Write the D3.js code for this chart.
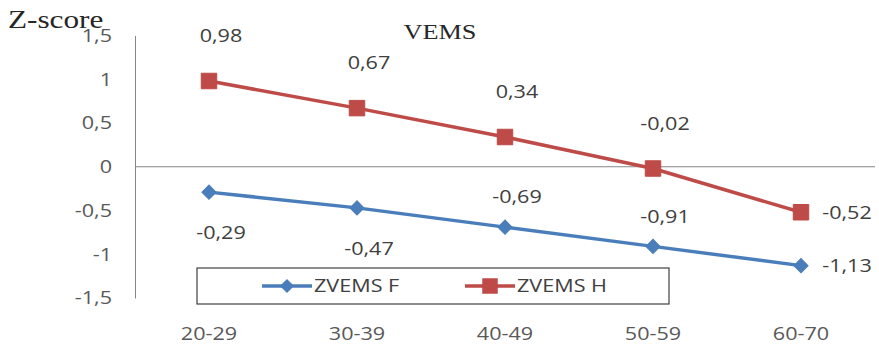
<!DOCTYPE html>
<html>
<head>
<meta charset="utf-8">
<script src="https://cdn.jsdelivr.net/npm/d3@7"></script>
<style>
  html, body { margin: 0; padding: 0; background: #fff; }
  svg { display: block; }
  .sx, .sxr, .sxl { transform-box: fill-box; }
  .sx  { transform-origin: 50% 50%;  transform: scaleX(1.2); }
  .sxr { transform-origin: 100% 50%; transform: scaleX(1.2); }
  .sxl { transform-origin: 0% 50%;   transform: scaleX(1.2); }
  .serif { transform-box: fill-box; transform-origin: 0% 50%; transform: scaleX(1.25); }
  .serifc { transform-box: fill-box; transform-origin: 50% 50%; transform: scaleX(1.25); }
</style>
</head>
<body>
<svg id="chart" width="879" height="357"></svg>
<script>
// Age groups and mean FEV1 z-scores for women (F) and men (H)
const categories = ["20-29", "30-39", "40-49", "50-59", "60-70"];
const zvemsF = [-0.29, -0.47, -0.69, -0.91, -1.13];
const zvemsH = [0.98, 0.67, 0.34, -0.02, -0.52];
const yTicks = [-1.5, -1, -0.5, 0, 0.5, 1, 1.5];
const seriesNames = ["ZVEMS F", "ZVEMS H"];
// where each value label sits relative to its point
const labelSideF = ["below", "below", "above", "above", "right"];
const labelSideH = ["above", "above", "above", "above", "right"];

const blue = "#4A7EBB";
const red = "#BE4B48";
const font = "'Open Sans', 'Liberation Sans', sans-serif";
const serif = "'Liberation Serif', 'DejaVu Serif', serif";

const svg = d3.select("#chart");
svg.append("rect").attr("width", 879).attr("height", 357).attr("fill", "#fff");

const x = d3.scaleBand().domain(categories).range([135, 875]).padding(0);
const cx = c => x(c) + x.bandwidth() / 2;
const y = d3.scaleLinear().domain([-1.5, 1.5]).range([298, 35.5]);
const fmt = v => String(v).replace(".", ",");

// value axis
const yAxis = svg.append("g").attr("transform", "translate(135,0)")
  .call(d3.axisLeft(y).tickValues(yTicks).tickSize(0).tickPadding(23).tickFormat(fmt));
yAxis.select(".domain").attr("stroke", "#868686").attr("stroke-width", 1);
yAxis.selectAll("text").attr("class", "sxr")
  .attr("font-family", font).attr("font-size", 18).attr("fill", "#595959");

// zero line
svg.append("line")
  .attr("x1", 135).attr("x2", 875)
  .attr("y1", y(0)).attr("y2", y(0))
  .attr("stroke", "#868686").attr("stroke-width", 1);

// category labels
const xAxis = svg.append("g").attr("transform", "translate(0,298)")
  .call(d3.axisBottom(x).tickSize(0).tickPadding(29));
xAxis.select(".domain").remove();
xAxis.selectAll("text").attr("class", "sx")
  .attr("font-family", font).attr("font-size", 18).attr("fill", "#595959");

// titles
svg.append("text").attr("class", "serif")
  .attr("x", 8).attr("y", 28)
  .attr("font-family", serif).attr("font-size", 25).attr("fill", "#262626")
  .text("Z-score");
svg.append("text").attr("class", "serifc")
  .attr("x", 440).attr("y", 39).attr("text-anchor", "middle")
  .attr("font-family", serif).attr("font-size", 21).attr("fill", "#262626")
  .text("VEMS");

const diamond = d3.symbol().type(d3.symbolSquare).size(100);
const square = d3.symbol().type(d3.symbolSquare).size(240);

function drawSeries(values, color, marker, rotate, sides, aboveOff, belowOff) {
  const pts = categories.map((c, i) => [cx(c), y(values[i])]);
  svg.append("path")
    .attr("d", d3.line()(pts))
    .attr("fill", "none").attr("stroke", color).attr("stroke-width", 3.5)
    .attr("stroke-linejoin", "round");
  svg.append("g").selectAll("path").data(pts).join("path")
    .attr("d", marker)
    .attr("transform", d => `translate(${d[0]},${d[1]}) rotate(${rotate})`)
    .attr("fill", color).attr("stroke", color).attr("stroke-width", 1);
  svg.append("g").selectAll("text").data(values).join("text")
    .attr("class", "sx")
    .attr("x", (v, i) => sides[i] === "right" ? cx(categories[i]) + 46 : cx(categories[i]) + 12)
    .attr("y", (v, i) => y(v) + (sides[i] === "above" ? aboveOff : sides[i] === "below" ? belowOff : 0))
    .attr("dy", "0.35em")
    .attr("text-anchor", "middle")
    .attr("font-family", font).attr("font-size", 18).attr("fill", "#404040")
    .text(fmt);
}

drawSeries(zvemsF, blue, diamond, 45, labelSideF, -30, 41);
drawSeries(zvemsH, red, square, 0, labelSideH, -45, 41);

// legend
const lg = svg.append("g");
lg.append("rect")
  .attr("x", 197).attr("y", 268).attr("width", 472).attr("height", 36)
  .attr("fill", "#fff").attr("stroke", "#404040").attr("stroke-width", 1.2);
const legendItems = [
  { name: seriesNames[0], color: blue, marker: diamond, rotate: 45, x0: 262 },
  { name: seriesNames[1], color: red, marker: square, rotate: 0, x0: 465 }
];
legendItems.forEach(it => {
  lg.append("line")
    .attr("x1", it.x0).attr("x2", it.x0 + 50).attr("y1", 286).attr("y2", 286)
    .attr("stroke", it.color).attr("stroke-width", 3.5);
  lg.append("path").attr("d", it.marker)
    .attr("transform", `translate(${it.x0 + 25},286) rotate(${it.rotate})`)
    .attr("fill", it.color);
  lg.append("text").attr("class", "sxl")
    .attr("x", it.x0 + 52).attr("y", 286).attr("dy", "0.35em")
    .attr("font-family", font).attr("font-size", 18).attr("fill", "#404040")
    .text(it.name);
});
</script>
</body>
</html>
